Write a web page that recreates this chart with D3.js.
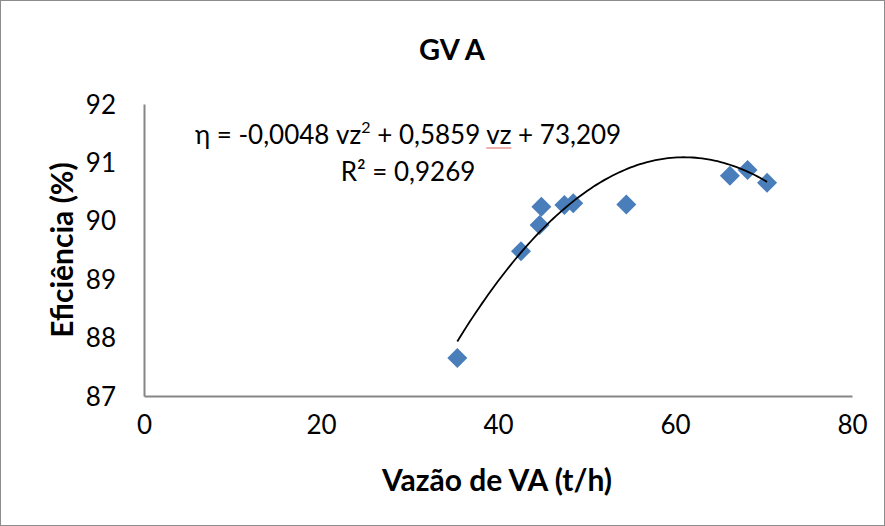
<!DOCTYPE html>
<html>
<head>
<meta charset="utf-8">
<script src="https://cdn.jsdelivr.net/npm/d3@7"></script>
<style>
  html, body { margin: 0; padding: 0; background: #fff; }
  svg { display: block; font-family: Lato, "Open Sans", sans-serif; }
</style>
</head>
<body>
<svg id="chart" width="885" height="526"></svg>
<script>
// Steam flow (t/h) and boiler efficiency (%) measurements
const flow = [35.4, 42.6, 44.7, 44.9, 47.5, 48.5, 54.5, 66.2, 68.2, 70.4];
const efficiency = [87.65, 89.48, 89.93, 90.24, 90.27, 90.30, 90.28, 90.77, 90.87, 90.65];

// Quadratic trend: η = a·vz² + b·vz + c
const coefA = -0.0048, coefB = 0.5859, coefC = 73.209;
const rSquared = "0,9269";

const xTicks = [0, 20, 40, 60, 80];
const yTicks = [87, 88, 89, 90, 91, 92];

const svg = d3.select("#chart");
const W = 885, H = 526;
const plot = { left: 144, right: 852, top: 104, bottom: 396 };

// outer chart frame
svg.append("rect")
  .attr("x", 0.5).attr("y", 0.5)
  .attr("width", W - 1).attr("height", H - 1)
  .attr("fill", "#fff").attr("stroke", "#8c8c8c").attr("stroke-width", 1);

const x = d3.scaleLinear().domain([0, 80]).range([plot.left, plot.right]);
const y = d3.scaleLinear().domain([87, 92]).range([plot.bottom, plot.top]);

// axes (no tick marks, labels only)
const xAxis = svg.append("g")
  .attr("transform", `translate(0,${plot.bottom})`)
  .call(d3.axisBottom(x).tickValues(xTicks).tickSize(0).tickPadding(29).tickFormat(d3.format("d")));
const yAxis = svg.append("g")
  .attr("transform", `translate(${plot.left},0)`)
  .call(d3.axisLeft(y).tickValues(yTicks).tickSize(0).tickPadding(28).tickFormat(d3.format("d")));

[xAxis, yAxis].forEach(g => {
  g.select(".domain").attr("stroke", "#868686").attr("stroke-width", 2);
  g.selectAll("text").attr("font-size", 26).attr("fill", "#000")
    .attr("font-family", "Lato, 'Open Sans', sans-serif");
});
yAxis.selectAll("text").attr("dy", "0.35em");
xAxis.selectAll("text").attr("dy", "0.35em");

// trend curve over the observed flow range
const xMin = d3.min(flow), xMax = d3.max(flow);
const curve = d3.range(0, 101).map(i => {
  const v = xMin + (xMax - xMin) * i / 100;
  return [v, coefA * v * v + coefB * v + coefC];
});

// data markers (diamonds)
svg.append("g").selectAll("path")
  .data(flow.map((f, i) => [f, efficiency[i]]))
  .join("path")
  .attr("d", d3.symbol(d3.symbolSquare, 200)())
  .attr("transform", d => `translate(${x(d[0])},${y(d[1])}) rotate(45)`)
  .attr("fill", "#4a7ebb");

svg.append("path")
  .datum(curve)
  .attr("d", d3.line().x(d => x(d[0])).y(d => y(d[1])))
  .attr("fill", "none").attr("stroke", "#000").attr("stroke-width", 1.8);

// title
svg.append("text")
  .attr("x", 452).attr("y", 60)
  .attr("text-anchor", "middle")
  .attr("font-size", 29).attr("font-weight", "bold")
  .text("GV A");

// trendline equation
const eq = svg.append("text")
  .attr("x", 408).attr("y", 144)
  .attr("text-anchor", "middle")
  .attr("font-size", 26);
eq.append("tspan").text("η = -0,0048 vz");
eq.append("tspan").attr("font-size", 16).attr("dy", -11).text("2");
eq.append("tspan").attr("dy", 11).text(" + 0,5859 ");
const vzSpan = eq.append("tspan").text("vz");
eq.append("tspan").text(" + 73,209");

// spell-check style underline under the second "vz"
const vzBox = vzSpan.node().getExtentOfChar(0);
const vzEnd = vzSpan.node().getExtentOfChar(1);
svg.append("line")
  .attr("x1", vzBox.x).attr("x2", vzEnd.x + vzEnd.width)
  .attr("y1", 148).attr("y2", 148)
  .attr("stroke", "#e06060").attr("stroke-width", 1);

svg.append("text")
  .attr("x", 408).attr("y", 181)
  .attr("text-anchor", "middle")
  .attr("font-size", 26)
  .text("R² = " + rSquared);

// axis titles
svg.append("text")
  .attr("x", 497).attr("y", 491)
  .attr("text-anchor", "middle")
  .attr("font-size", 30).attr("font-weight", "bold")
  .text("Vazão de VA (t/h)");

svg.append("text")
  .attr("transform", `translate(73,${(plot.top + plot.bottom) / 2}) rotate(-90)`)
  .attr("text-anchor", "middle")
  .attr("font-size", 30).attr("font-weight", "bold")
  .text("Eficiência (%)");
</script>
</body>
</html>
